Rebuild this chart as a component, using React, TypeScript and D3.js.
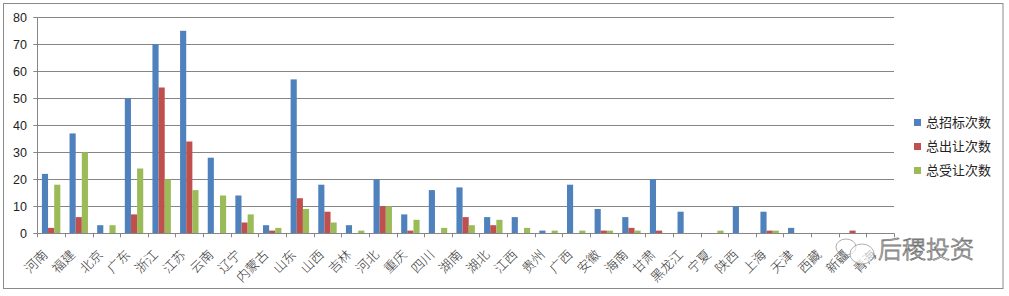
import React from "react";
import * as d3 from "d3";

const categories = ["河南","福建","北京","广东","浙江","江苏","云南","辽宁","内蒙古","山东","山西","吉林","河北","重庆","四川","湖南","湖北","江西","贵州","广西","安徽","海南","甘肃","黑龙江","宁夏","陕西","上海","天津","西藏","新疆","青海"];
const zhaobiao = [22,37,3,50,70,75,28,14,3,57,18,3,20,7,16,17,6,6,1,18,9,6,20,8,0,10,8,2,0,0,0];
const churang = [2,6,0,7,54,34,0,4,1,13,8,0,10,1,0,6,3,0,0,0,1,2,1,0,0,0,1,0,0,1,0];
const shourang = [18,30,3,24,20,16,14,7,2,9,4,1,10,5,2,3,5,2,1,1,1,1,0,0,1,0,1,0,0,0,0];
const seriesNames = ["总招标次数","总出让次数","总受让次数"];
const colors = ["#4F81BD","#C0504D","#9BBB59"];
const yTicks = [0,10,20,30,40,50,60,70,80];

export default function App() {
  const W = 1009, H = 296;
  const left = 37.3, right = 894, top = 17.3, bottom = 233.3;
  const x = d3.scaleBand<string>().domain(categories).range([left, right]).paddingInner(0).paddingOuter(0);
  const bw = x.bandwidth();
  const barW = bw / 4.5;
  const y = d3.scaleLinear().domain([0, 80]).range([bottom, top]);
  const series = [zhaobiao, churang, shourang];
  const gridColor = "#868686";

  return (
    <svg width={W} height={H} style={{ position: "absolute", left: 0, top: 0, background: "#fff" }}>
      <rect x={0} y={0} width={W} height={H} fill="#fff" />
      <rect x={3.5} y={3.5} width={999.5} height={285} fill="#fff" stroke="#8a8a8a" strokeWidth={1} />
      {yTicks.map(t => (
        <g key={t}>
          {t > 0 && <line x1={left} x2={right} y1={Math.round(y(t)) + 0.5} y2={Math.round(y(t)) + 0.5} stroke={gridColor} strokeWidth={1} />}
          <line x1={left - 4} x2={left} y1={Math.round(y(t)) + 0.5} y2={Math.round(y(t)) + 0.5} stroke={gridColor} strokeWidth={1} />
          <text x={27} y={y(t)} dy="0.35em" textAnchor="end" fontFamily="Liberation Sans, Arial, sans-serif" fontSize={12.5} fill="#222">{t}</text>
        </g>
      ))}
      {series.map((vals, si) => (
        <g key={si}>
          {categories.map((c, i) => vals[i] > 0 ? (
            <rect key={c} x={(x(c) as number) + barW * 0.75 + si * barW} y={y(vals[i])} width={barW} height={bottom - y(vals[i])} fill={colors[si]} />
          ) : null)}
        </g>
      ))}
      <line x1={Math.round(left) + 0.5} x2={Math.round(left) + 0.5} y1={top} y2={bottom} stroke={gridColor} strokeWidth={1} />
      <line x1={left} x2={right} y1={Math.round(bottom) + 0.5} y2={Math.round(bottom) + 0.5} stroke={gridColor} strokeWidth={1} />
      {categories.map((c, i) => (
        <line key={c} x1={Math.round(x(c) as number) + 0.5} x2={Math.round(x(c) as number) + 0.5} y1={bottom} y2={bottom + 4} stroke={gridColor} />
      ))}
      <line x1={Math.round(right) + 0.5} x2={Math.round(right) + 0.5} y1={bottom} y2={bottom + 4} stroke={gridColor} />
      {categories.map(c => {
        const cx = (x(c) as number) + bw / 2 - 6;
        const cy = bottom + 19;
        return (
          <text key={c} transform={`translate(${cx},${cy}) rotate(-45)`} textAnchor="end" dy="0.35em" fontFamily="Noto Sans CJK SC, sans-serif" fontWeight={300} fontSize={13} fill="#333">{c}</text>
        );
      })}
      {seriesNames.map((n, i) => (
        <g key={n} transform={`translate(914,${122.5 + i * 24})`}>
          <rect x={0} y={-3.5} width={7} height={7} fill={colors[i]} />
          <text x={12} y={0} dy="0.35em" fontFamily="Noto Sans CJK SC, sans-serif" fontSize={13} fill="#222">{n}</text>
        </g>
      ))}
      <g fill="none" stroke="#999" strokeWidth={0.8}>
        <ellipse cx={846} cy={247} rx={10} ry={8} />
        <ellipse cx={862} cy={254} rx={12} ry={10} fill="rgba(255,255,255,0.6)" />
      </g>
      <text x={878} y={250} dy="0.35em" fontFamily="Noto Sans CJK SC, sans-serif" fontSize={24} fontWeight={300} fill="#fff" stroke="#777" strokeWidth={0.8}>后稷投资</text>
    </svg>
  );
}
